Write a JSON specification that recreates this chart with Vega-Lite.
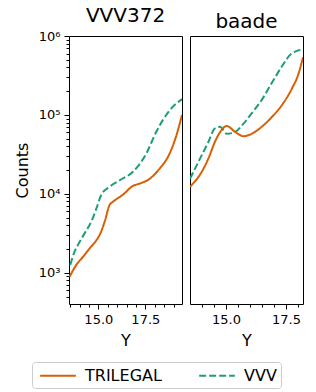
{
  "$schema": "https://vega.github.io/schema/vega-lite/v6.json",
  "padding": {"left": 13, "top": 5, "right": 5, "bottom": 5},
  "spacing": 6,
  "config": {
    "font": "DejaVu Sans",
    "view": {"stroke": "black", "strokeWidth": 1},
    "axis": {
      "domain": false,
      "grid": false,
      "tickColor": "black",
      "labelColor": "black",
      "titleColor": "black",
      "labelFontSize": 13,
      "titleFontSize": 16,
      "titleFontWeight": "normal",
      "labelPadding": 4
    },
    "title": {"fontSize": 20, "fontWeight": "normal", "color": "black", "anchor": "middle", "offset": 0, "baseline": "alphabetic", "frame": "group"},
    "legend": {
      "orient": "none",
      "legendX": -37,
      "legendY": 326,
      "direction": "horizontal",
      "title": null,
      "labelFontSize": 16,
      "labelColor": "black",
      "symbolType": "M-2.1,0H2.1",
      "symbolSize": 289,
      "symbolOffset": 12.5,
      "symbolStrokeWidth": 2,
      "strokeColor": "#cccccc",
      "cornerRadius": 3,
      "padding": 4,
      "columnPadding": 33,
      "labelOffset": 17.5
    }
  },
  "datasets": {
    "vvv372": [
      {"mag": 13.51, "counts": 1259, "source": "VVV"},
      {"mag": 13.74, "counts": 1862, "source": "VVV"},
      {"mag": 13.91, "counts": 2239, "source": "VVV"},
      {"mag": 14.27, "counts": 3162, "source": "VVV"},
      {"mag": 14.63, "counts": 4467, "source": "VVV"},
      {"mag": 14.89, "counts": 6457, "source": "VVV"},
      {"mag": 15.16, "counts": 9772, "source": "VVV"},
      {"mag": 15.60, "counts": 12303, "source": "VVV"},
      {"mag": 16.13, "counts": 14791, "source": "VVV"},
      {"mag": 16.84, "counts": 19055, "source": "VVV"},
      {"mag": 17.55, "counts": 32359, "source": "VVV"},
      {"mag": 18.09, "counts": 61660, "source": "VVV"},
      {"mag": 18.80, "counts": 114815, "source": "VVV"},
      {"mag": 19.45, "counts": 158489, "source": "VVV"},
      {"mag": 13.47, "counts": 891, "source": "TRILEGAL"},
      {"mag": 13.83, "counts": 1259, "source": "TRILEGAL"},
      {"mag": 14.18, "counts": 1585, "source": "TRILEGAL"},
      {"mag": 14.54, "counts": 2042, "source": "TRILEGAL"},
      {"mag": 14.89, "counts": 2570, "source": "TRILEGAL"},
      {"mag": 15.07, "counts": 3020, "source": "TRILEGAL"},
      {"mag": 15.34, "counts": 4467, "source": "TRILEGAL"},
      {"mag": 15.60, "counts": 7244, "source": "TRILEGAL"},
      {"mag": 15.78, "counts": 7943, "source": "TRILEGAL"},
      {"mag": 16.31, "counts": 9772, "source": "TRILEGAL"},
      {"mag": 16.84, "counts": 12589, "source": "TRILEGAL"},
      {"mag": 17.20, "counts": 13490, "source": "TRILEGAL"},
      {"mag": 17.73, "counts": 15488, "source": "TRILEGAL"},
      {"mag": 18.26, "counts": 20893, "source": "TRILEGAL"},
      {"mag": 18.79, "counts": 32359, "source": "TRILEGAL"},
      {"mag": 19.15, "counts": 54954, "source": "TRILEGAL"},
      {"mag": 19.45, "counts": 100000, "source": "TRILEGAL"}
    ],
    "baade": [
      {"mag": 13.50, "counts": 15488, "source": "VVV"},
      {"mag": 13.71, "counts": 20893, "source": "VVV"},
      {"mag": 13.99, "counts": 30903, "source": "VVV"},
      {"mag": 14.27, "counts": 45709, "source": "VVV"},
      {"mag": 14.54, "counts": 67608, "source": "VVV"},
      {"mag": 14.75, "counts": 70795, "source": "VVV"},
      {"mag": 15.03, "counts": 57544, "source": "VVV"},
      {"mag": 15.38, "counts": 60954, "source": "VVV"},
      {"mag": 15.73, "counts": 77625, "source": "VVV"},
      {"mag": 16.07, "counts": 104713, "source": "VVV"},
      {"mag": 16.49, "counts": 154882, "source": "VVV"},
      {"mag": 16.90, "counts": 251189, "source": "VVV"},
      {"mag": 17.32, "counts": 407380, "source": "VVV"},
      {"mag": 17.74, "counts": 602560, "source": "VVV"},
      {"mag": 18.21, "counts": 676083, "source": "VVV"},
      {"mag": 13.50, "counts": 12303, "source": "TRILEGAL"},
      {"mag": 13.99, "counts": 19055, "source": "TRILEGAL"},
      {"mag": 14.27, "counts": 28184, "source": "TRILEGAL"},
      {"mag": 14.54, "counts": 45709, "source": "TRILEGAL"},
      {"mag": 14.82, "counts": 64565, "source": "TRILEGAL"},
      {"mag": 15.03, "counts": 72444, "source": "TRILEGAL"},
      {"mag": 15.38, "counts": 60954, "source": "TRILEGAL"},
      {"mag": 15.73, "counts": 53703, "source": "TRILEGAL"},
      {"mag": 16.07, "counts": 57544, "source": "TRILEGAL"},
      {"mag": 16.49, "counts": 70795, "source": "TRILEGAL"},
      {"mag": 16.90, "counts": 93325, "source": "TRILEGAL"},
      {"mag": 17.32, "counts": 131826, "source": "TRILEGAL"},
      {"mag": 17.74, "counts": 213796, "source": "TRILEGAL"},
      {"mag": 18.02, "counts": 331131, "source": "TRILEGAL"},
      {"mag": 18.21, "counts": 537032, "source": "TRILEGAL"}
    ]
  },
  "hconcat": [
    {
      "width": 113,
      "height": 268,
      "title": "VVV372",
      "data": {"name": "vvv372"},
      "mark": {"type": "line", "strokeWidth": 2, "interpolate": "monotone", "clip": true},
      "encoding": {
        "x": {
          "field": "mag", "type": "quantitative",
          "scale": {"domain": [13.44, 19.45], "nice": false, "zero": false},
          "axis": {
            "title": "Y",
            "titlePadding": 6,
            "values": [13.5, 14, 14.5, 15, 15.5, 16, 16.5, 17, 17.5, 18, 18.5, 19],
            "labelExpr": "datum.value == 15 || datum.value == 17.5 ? format(datum.value, '.1f') : ''",
            "tickSize": {"condition": {"test": "datum.value == 15 || datum.value == 17.5", "value": 5}, "value": 3}
          }
        },
        "y": {
          "field": "counts", "type": "quantitative",
          "scale": {"type": "log", "domain": [402, 1000000], "nice": false},
          "axis": {
            "title": "Counts",
            "titlePadding": 8,
            "values": [500, 600, 700, 800, 900, 1000, 2000, 3000, 4000, 5000, 6000, 7000, 8000, 9000, 10000, 20000, 30000, 40000, 50000, 60000, 70000, 80000, 90000, 100000, 200000, 300000, 400000, 500000, 600000, 700000, 800000, 900000, 1000000],
            "labelExpr": "datum.value == 1000 ? '10³' : datum.value == 10000 ? '10⁴' : datum.value == 100000 ? '10⁵' : datum.value == 1000000 ? '10⁶' : ''",
            "tickSize": {"condition": {"test": "indexof([1000, 10000, 100000, 1000000], datum.value) >= 0", "value": 5}, "value": 3}
          }
        },
        "color": {"field": "source", "type": "nominal", "scale": {"domain": ["TRILEGAL", "VVV"], "range": ["#d95f02", "#1b9e77"]}},
        "strokeDash": {"field": "source", "type": "nominal", "scale": {"domain": ["TRILEGAL", "VVV"], "range": [[1, 0], [7, 3]]}}
      }
    },
    {
      "width": 113,
      "height": 268,
      "title": "baade",
      "data": {"name": "baade"},
      "mark": {"type": "line", "strokeWidth": 2, "interpolate": "monotone", "clip": true},
      "encoding": {
        "x": {
          "field": "mag", "type": "quantitative",
          "scale": {"domain": [13.5, 18.21], "nice": false, "zero": false},
          "axis": {
            "title": "Y",
            "titlePadding": 6,
            "values": [14, 14.5, 15, 15.5, 16, 16.5, 17, 17.5, 18],
            "labelExpr": "datum.value == 15 || datum.value == 17.5 ? format(datum.value, '.1f') : ''",
            "tickSize": {"condition": {"test": "datum.value == 15 || datum.value == 17.5", "value": 5}, "value": 3}
          }
        },
        "y": {
          "field": "counts", "type": "quantitative",
          "scale": {"type": "log", "domain": [402, 1000000], "nice": false},
          "axis": null
        },
        "color": {"field": "source", "type": "nominal", "scale": {"domain": ["TRILEGAL", "VVV"], "range": ["#d95f02", "#1b9e77"]}},
        "strokeDash": {"field": "source", "type": "nominal", "scale": {"domain": ["TRILEGAL", "VVV"], "range": [[1, 0], [7, 3]]}}
      }
    }
  ]
}
